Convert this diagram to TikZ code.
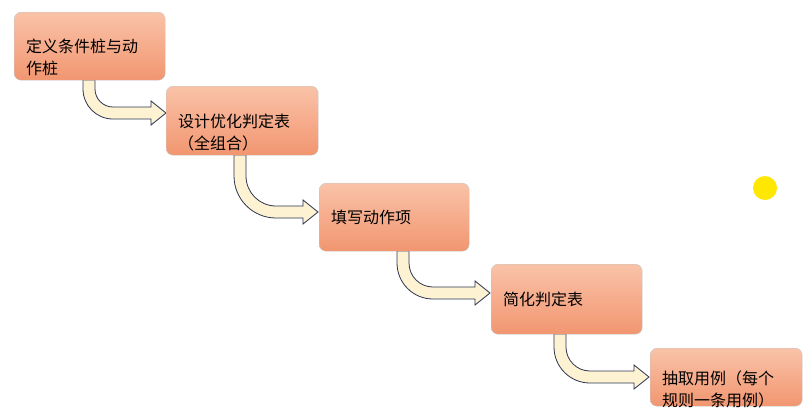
\documentclass[tikz,border=0pt]{standalone}
\usepackage{fontspec}
\setmainfont{Noto Sans CJK SC}
\definecolor{btop}{HTML}{F9C3A8}
\definecolor{bmid}{HTML}{F6AC8C}
\definecolor{bbot}{HTML}{F19670}
\definecolor{acream}{HTML}{FDF3D2}
\definecolor{aline}{HTML}{2E3552}
\begin{document}
\begin{tikzpicture}[x=1pt,y=-1pt,
  box/.style={draw=gray!45, rounded corners=7pt, top color=btop, bottom color=bbot,
    middle color=bmid, anchor=north west, inner xsep=12pt, inner ysep=0pt, font=\fontsize{16}{22}\selectfont, align=left,
    text depth=0pt},
  arr/.style={draw=aline, line width=0.8pt, fill=acream, line join=miter}]
\useasboundingbox (0,0) rectangle (812,410);
\fill[white] (0,0) rectangle (812,410);
\newcommand{\bentarrow}[5]{% x0,y0,yc,xe,R
  \pgfmathsetmacro\xa{#1-6}\pgfmathsetmacro\xb{#1+6}
  \pgfmathsetmacro\cy{#3-#5}\pgfmathsetmacro\cx{#1+#5}
  \pgfmathsetmacro\xh{#4-15}
  \draw[arr] (\xa,#2) -- (\xa,\cy) arc[start angle=180,end angle=90,radius=#5+6]
    -- (\xh,#3+6) -- (\xh,#3+12) -- (#4,#3) -- (\xh,#3-12) -- (\xh,#3-6) -- (\cx,#3-6)
    arc[start angle=90,end angle=180,radius=#5-6] -- (\xb,#2) -- cycle;}
\bentarrow{89}{80}{113}{166}{24}
\bentarrow{240}{155}{212}{318}{36}
\bentarrow{403}{251}{293}{490}{30}
\bentarrow{560}{334}{377}{649}{30}
\node[box, minimum width=151pt, minimum height=68pt, text width=127pt] (b1) at (14,12) {定义条件桩与动\\作桩};
\node[box, minimum width=152pt, minimum height=69pt, text width=128pt] (b2) at (166,86) {设计优化判定表\\（全组合）};
\node[box, minimum width=150pt, minimum height=68pt, text width=126pt] (b3) at (319,183) {填写动作项};
\node[box, minimum width=151pt, minimum height=70pt, text width=127pt] (b4) at (491,264) {简化判定表};
\node[box, minimum width=152pt, minimum height=58pt, text width=128pt] (b5) at (650,348) {抽取用例（每个\\规则一条用例）};
\fill[yellow!90!orange] (765,188) circle (12);
\end{tikzpicture}
\end{document}
